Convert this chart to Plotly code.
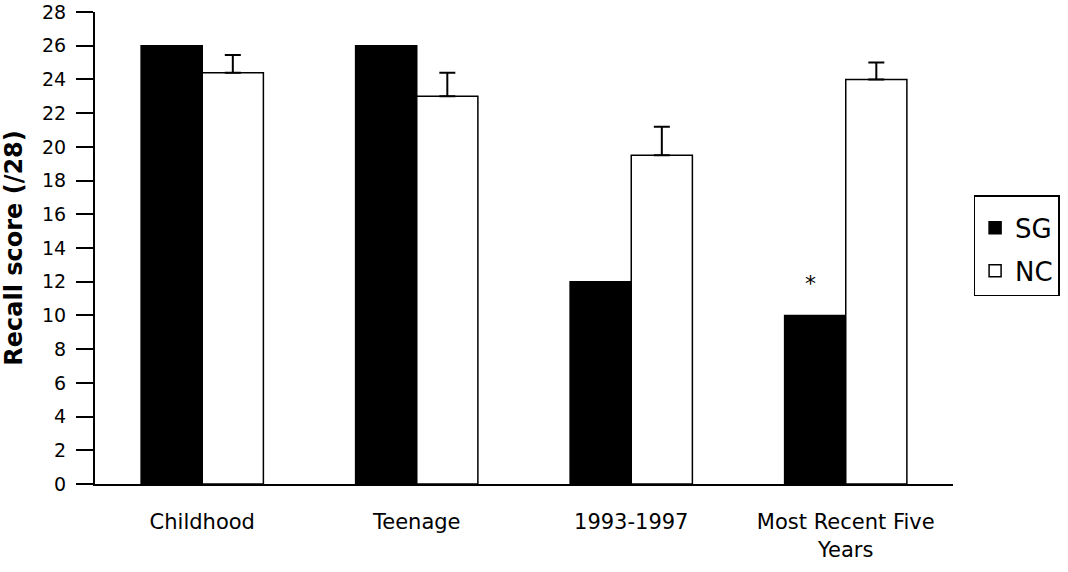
import plotly.graph_objects as go

categories = ["Childhood", "Teenage", "1993-1997", "Most Recent Five<br>Years"]
sg_values = [26, 26, 12, 10]
nc_values = [24.4, 23.0, 19.5, 24.0]
nc_errors = [1.05, 1.4, 1.7, 1.0]
y_ticks = list(range(0, 29, 2))

fig = go.Figure()
fig.add_trace(go.Bar(
    x=categories, y=sg_values, name="SG", legendgroup="sg",
    marker=dict(color="black", line=dict(color="black", width=1.5)),
))
fig.add_trace(go.Bar(
    x=categories, y=nc_values, name="NC", legendgroup="nc",
    marker=dict(color="white", line=dict(color="black", width=1.5)),
    error_y=dict(type="data", array=nc_errors, arrayminus=[0]*4, symmetric=False,
                 color="black", thickness=2, width=8),
))

fig.add_annotation(x=categories[3], y=11.9, text="*", showarrow=False,
                   xshift=-35, yanchor="middle",
                   font=dict(size=22, color="black", family="DejaVu Sans"))

fig.update_layout(
    width=1068, height=572,
    margin=dict(l=95, r=115, t=12, b=88, autoexpand=False),
    paper_bgcolor="white", plot_bgcolor="white",
    barmode="group", bargap=0.43, bargroupgap=0,
    font=dict(family="DejaVu Sans, sans-serif", color="black", size=19),
    showlegend=True,
    legend=dict(x=1.024, y=0.612, xanchor="left", yanchor="top",
                bordercolor="black", borderwidth=1.5, bgcolor="white",
                font=dict(size=26), traceorder="grouped", tracegroupgap=6,
                title=dict(text=" ", font=dict(size=6))),
    xaxis=dict(showline=True, linecolor="black", linewidth=2, ticks="",
               tickfont=dict(size=21), ticklabelstandoff=18),
    yaxis=dict(range=[0, 28], tickvals=y_ticks, showline=True, linecolor="black",
               linewidth=2, ticks="outside", ticklen=17, tickwidth=2, tickcolor="black",
               showgrid=False, zeroline=False, tickfont=dict(size=19),
               ticklabeloverflow="allow", ticklabelstandoff=6,
               title=dict(text="<b>Recall score (/28)</b>", font=dict(size=24), standoff=14)),
)

fig.write_html("out.html", config={"displayModeBar": False},
               post_script="document.body.style.margin='0';document.body.style.overflow='hidden';")
